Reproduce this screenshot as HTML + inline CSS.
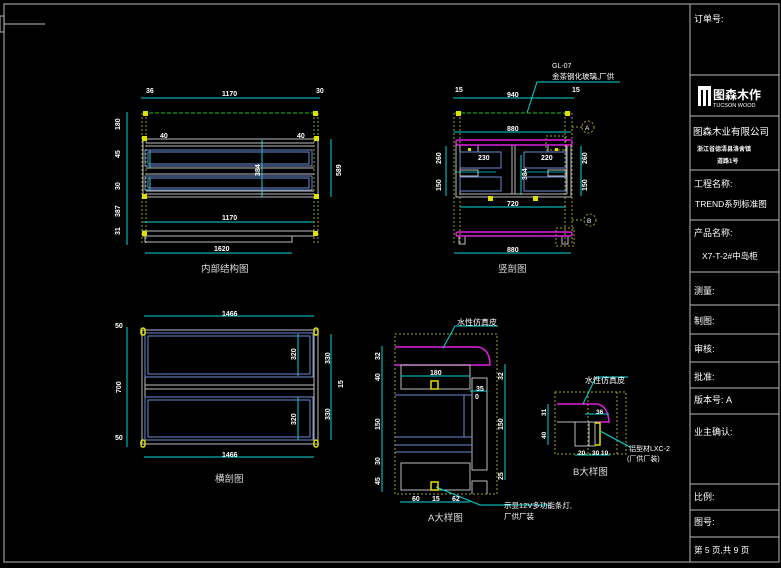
<!DOCTYPE html>
<html><head><meta charset="utf-8"><style>
html,body{margin:0;padding:0;background:#000;}
svg{display:block;}
text{font-family:"Liberation Sans","Noto Sans CJK SC",sans-serif;}
</style></head><body>
<svg width="781" height="568" viewBox="0 0 781 568" xmlns="http://www.w3.org/2000/svg">
<rect width="781" height="568" fill="#000"/>
<!-- frame -->
<g stroke="#9a9a9a" stroke-width="1.2" fill="none">
<rect x="4" y="4" width="775" height="558"/>
<line x1="690" y1="4" x2="690" y2="562"/>
<line x1="4" y1="24" x2="45" y2="24"/>
<rect x="0" y="16" width="4" height="16"/>
</g>
<g stroke="#bbb" stroke-width="1" fill="none">
<line x1="690" y1="75" x2="779" y2="75"/>
<line x1="690" y1="116" x2="779" y2="116"/>
<line x1="690" y1="170" x2="779" y2="170"/>
<line x1="690" y1="220" x2="779" y2="220"/>
<line x1="690" y1="272" x2="779" y2="272"/>
<line x1="690" y1="305" x2="779" y2="305"/>
<line x1="690" y1="334" x2="779" y2="334"/>
<line x1="690" y1="362" x2="779" y2="362"/>
<line x1="690" y1="388" x2="779" y2="388"/>
<line x1="690" y1="414" x2="779" y2="414"/>
<line x1="690" y1="484" x2="779" y2="484"/>
<line x1="690" y1="510" x2="779" y2="510"/>
<line x1="690" y1="537" x2="779" y2="537"/>
</g>
<g fill="#fff" font-size="9">
<text x="694" y="22">订单号:</text>
<rect x="698" y="86" width="13" height="20" fill="#fff"/>
<rect x="701" y="90" width="2" height="16" fill="#000"/><rect x="706" y="90" width="2" height="16" fill="#000"/>
<text x="713" y="99" font-size="12" font-weight="bold">图森木作</text>
<text x="713" y="107" font-size="5.5">TUCSON WOOD</text>
<text x="693" y="135" font-size="9.5">图森木业有限公司</text>
<text x="697" y="151" font-size="6" font-weight="bold">浙江省德清县洛舍镇</text>
<text x="717" y="163" font-size="6" font-weight="bold">道路1号</text>
<text x="694" y="187">工程名称:</text>
<text x="695" y="207" font-size="8.5">TREND系列标准图</text>
<text x="694" y="236">产品名称:</text>
<text x="702" y="259" font-size="8.5">X7-T-2#中岛柜</text>
<text x="694" y="294">测量:</text>
<text x="694" y="324">制图:</text>
<text x="694" y="352">审核:</text>
<text x="694" y="380">批准:</text>
<text x="694" y="403">版本号:  A</text>
<text x="694" y="435">业主确认:</text>
<text x="694" y="500">比例:</text>
<text x="694" y="525">图号:</text>
<text x="694" y="553" font-size="8.5">第 5 页,共 9 页</text>
</g>

<!-- ========== 内部结构图 ========== -->
<g fill="none" stroke-width="1">
<g stroke="#00d8d8">
<line x1="141" y1="98" x2="320" y2="98"/>
<line x1="127" y1="112" x2="127" y2="245"/>
<line x1="331" y1="139" x2="331" y2="197"/>
<line x1="262" y1="140" x2="262" y2="197"/>
<line x1="143" y1="222" x2="314" y2="222"/>
<line x1="145" y1="253" x2="292" y2="253"/>
<line x1="150" y1="150" x2="150" y2="168"/><line x1="150" y1="177" x2="150" y2="190"/>
</g>
<line x1="143" y1="113" x2="318" y2="113" stroke="#20c020" stroke-dasharray="4,2"/>
<g stroke="#a0a020" stroke-dasharray="2,2">
<line x1="142" y1="113" x2="142" y2="245"/><line x1="146" y1="113" x2="146" y2="245"/>
<line x1="314" y1="113" x2="314" y2="245"/><line x1="318" y1="113" x2="318" y2="245"/>
</g>
<g stroke="#bbb">
<rect x="143" y="139" width="175" height="58"/>
<line x1="146" y1="143" x2="314" y2="143"/>
<line x1="146" y1="146" x2="314" y2="146"/>
<line x1="146" y1="168" x2="314" y2="168"/>
<line x1="146" y1="174" x2="314" y2="174"/>
<line x1="146" y1="191" x2="314" y2="191"/>
<line x1="146" y1="194" x2="314" y2="194"/>
<rect x="143" y="231" width="171" height="5"/>
<rect x="145" y="236" width="147" height="6"/>
</g>
<g stroke="#6a8cd0">
<rect x="145" y="150" width="167" height="16"/>
<rect x="148" y="152" width="161" height="12"/>
<rect x="145" y="176" width="167" height="14"/>
<rect x="148" y="178" width="161" height="10"/>
</g>
</g>
<g fill="#e0e000">
<rect x="143" y="111" width="5" height="5"/><rect x="313" y="111" width="5" height="5"/>
<rect x="142" y="136" width="5" height="5"/><rect x="314" y="136" width="5" height="5"/>
<rect x="142" y="194" width="5" height="5"/><rect x="314" y="194" width="5" height="5"/>
<rect x="142" y="231" width="5" height="5"/><rect x="313" y="231" width="5" height="5"/>
</g>
<g fill="#fff" font-size="7" font-weight="bold">
<text x="146" y="93">36</text><text x="316" y="93">30</text>
<text x="222" y="96">1170</text><text x="222" y="220">1170</text><text x="214" y="251">1620</text>
<text x="120" y="130" transform="rotate(-90 120 130)">180</text>
<text x="120" y="158" transform="rotate(-90 120 158)">45</text>
<text x="120" y="190" transform="rotate(-90 120 190)">30</text>
<text x="120" y="217" transform="rotate(-90 120 217)">387</text>
<text x="120" y="235" transform="rotate(-90 120 235)">31</text>
<text x="341" y="176" transform="rotate(-90 341 176)">589</text>
<text x="260" y="176" transform="rotate(-90 260 176)">384</text>
<text x="160" y="138">40</text><text x="297" y="138">40</text>
</g>
<text x="201" y="272" fill="#ddd" font-size="9.5">内部结构图</text>

<!-- ========== 竖剖图 ========== -->
<g fill="none" stroke-width="1">
<g stroke="#00d8d8">
<line x1="453" y1="98" x2="574" y2="98"/>
<line x1="454" y1="132" x2="571" y2="132"/>
<line x1="460" y1="207" x2="566" y2="207"/>
<line x1="454" y1="253" x2="571" y2="253"/>
<line x1="446" y1="146" x2="446" y2="196"/>
<line x1="581" y1="146" x2="581" y2="196"/>
<line x1="521" y1="155" x2="521" y2="195"/>
<polyline points="527,113 537,82 620,82"/>
<line x1="454" y1="172" x2="496" y2="172" stroke-width="0.8"/>
<line x1="524" y1="172" x2="567" y2="172" stroke-width="0.8"/>
</g>
<line x1="455" y1="113" x2="571" y2="113" stroke="#20c020" stroke-dasharray="4,2"/>
<g stroke="#a0a020" stroke-dasharray="2,2">
<line x1="454" y1="113" x2="454" y2="245"/><line x1="460" y1="113" x2="460" y2="245"/>
<line x1="565" y1="113" x2="565" y2="245"/><line x1="572" y1="113" x2="572" y2="245"/>
<rect x="546" y="136" width="20" height="14"/>
<rect x="556" y="228" width="18" height="18"/>
<line x1="572" y1="127" x2="582" y2="127"/><line x1="572" y1="220" x2="583" y2="220"/>
<circle cx="588" cy="127" r="6"/><circle cx="590" cy="220" r="6"/>
</g>
<g stroke="#bbb">
<rect x="456" y="145" width="115" height="52"/>
<line x1="460" y1="145" x2="460" y2="194"/><line x1="567" y1="145" x2="567" y2="194"/>
<line x1="460" y1="194" x2="567" y2="194"/>
<line x1="512" y1="145" x2="512" y2="194"/><line x1="515" y1="145" x2="515" y2="194"/>
<rect x="460" y="145" width="18" height="7"/><rect x="548" y="145" width="18" height="7"/>
<rect x="460" y="170" width="18" height="6"/><rect x="548" y="170" width="18" height="6"/>
<line x1="456" y1="236" x2="571" y2="236"/>
<rect x="459" y="236" width="6" height="8"/><rect x="562" y="236" width="6" height="8"/>
</g>
<g stroke="#6a8cd0">
<rect x="460" y="152" width="41" height="16"/><rect x="524" y="152" width="42" height="16"/>
<rect x="460" y="177" width="41" height="14"/><rect x="524" y="177" width="42" height="14"/>
</g>
<rect x="456" y="140" width="116" height="5" rx="2" stroke="#e020e0" stroke-width="1.5"/>
<rect x="456" y="232" width="116" height="4" rx="2" stroke="#e020e0" stroke-width="1.5"/>
</g>
<g fill="#e0e000">
<rect x="456" y="111" width="5" height="5"/><rect x="565" y="111" width="5" height="5"/>
<rect x="488" y="196" width="5" height="5"/><rect x="533" y="196" width="5" height="5"/>
<rect x="468" y="148" width="3" height="3"/><rect x="555" y="148" width="3" height="3"/>
</g>
<g fill="#fff" font-size="7" font-weight="bold">
<text x="455" y="92">15</text><text x="572" y="92">15</text>
<text x="507" y="97">940</text><text x="507" y="131">880</text>
<text x="507" y="206">720</text><text x="507" y="252">880</text>
<text x="478" y="160">230</text><text x="541" y="160">220</text>
<text x="441" y="164" transform="rotate(-90 441 164)">260</text>
<text x="441" y="191" transform="rotate(-90 441 191)">150</text>
<text x="587" y="164" transform="rotate(-90 587 164)">260</text>
<text x="587" y="191" transform="rotate(-90 587 191)">150</text>
<text x="527" y="180" transform="rotate(-90 527 180)">384</text>
</g>
<g fill="#fff" font-size="7">
<text x="552" y="68">GL-07</text>
<text x="552" y="79" font-size="7.5">金茶钢化玻璃,厂供</text>
<text x="585" y="130" font-size="6.5">A</text><text x="587" y="223" font-size="6.5">B</text>
</g>
<text x="498" y="272" fill="#ddd" font-size="9.5">竖剖图</text>

<!-- ========== 横剖图 ========== -->
<g fill="none" stroke-width="1">
<g stroke="#00d8d8">
<line x1="144" y1="316" x2="314" y2="316"/>
<line x1="144" y1="457" x2="314" y2="457"/>
<line x1="127" y1="327" x2="127" y2="447"/>
<line x1="331" y1="334" x2="331" y2="440"/>
<line x1="298" y1="334" x2="298" y2="376"/>
<line x1="298" y1="397" x2="298" y2="440"/>
</g>
<g stroke="#bbb">
<rect x="142" y="330" width="176" height="114"/>
<line x1="145" y1="385" x2="314" y2="385"/><line x1="145" y1="389" x2="314" y2="389"/>
<line x1="145" y1="333" x2="145" y2="441"/><line x1="314" y1="333" x2="314" y2="441"/>
</g>
<g stroke="#6a8cd0">
<rect x="145" y="333" width="168" height="44"/><rect x="148" y="336" width="162" height="38"/>
<rect x="145" y="397" width="168" height="43"/><rect x="148" y="400" width="162" height="37"/>
</g>
<g stroke="#e0e000" stroke-width="1.5">
<rect x="141" y="328" width="4" height="7" rx="2"/><rect x="314" y="328" width="4" height="7" rx="2"/>
<rect x="141" y="440" width="4" height="7" rx="2"/><rect x="314" y="440" width="4" height="7" rx="2"/>
</g>
</g>
<g fill="#fff" font-size="7" font-weight="bold">
<text x="222" y="316">1466</text><text x="222" y="457">1466</text>
<text x="121" y="393" transform="rotate(-90 121 393)">700</text>
<text x="296" y="360" transform="rotate(-90 296 360)">320</text>
<text x="296" y="425" transform="rotate(-90 296 425)">320</text>
<text x="330" y="364" transform="rotate(-90 330 364)">330</text>
<text x="330" y="420" transform="rotate(-90 330 420)">330</text>
<text x="343" y="388" transform="rotate(-90 343 388)">15</text>
<text x="115" y="328">50</text><text x="115" y="440">50</text>
</g>
<text x="215" y="482" fill="#ddd" font-size="9.5">横剖图</text>

<!-- ========== A大样图 ========== -->
<g fill="none" stroke-width="1">
<rect x="395" y="334" width="102" height="160" stroke="#a0a020" stroke-dasharray="2,2"/>
<path d="M395,347 H478 Q490,349 490,365 H395" stroke="#e020e0" stroke-width="1.5"/>
<g stroke="#bbb">
<rect x="401" y="365" width="69" height="24"/>
<rect x="472" y="378" width="15" height="92"/>
<rect x="401" y="463" width="69" height="27"/>
<polyline points="472,494 472,481 487,481 487,494"/>
</g>
<g stroke="#6a8cd0">
<line x1="395" y1="395" x2="472" y2="395"/>
<line x1="395" y1="437" x2="472" y2="437"/>
<line x1="395" y1="445" x2="472" y2="445"/>
<line x1="395" y1="452" x2="472" y2="452"/>
<line x1="464" y1="395" x2="464" y2="437"/>
</g>
<g stroke="#00d8d8">
<line x1="382" y1="346" x2="382" y2="492"/>
<line x1="505" y1="364" x2="505" y2="480"/>
<line x1="400" y1="502" x2="470" y2="502"/>
<line x1="401" y1="376" x2="470" y2="376"/>
<line x1="470" y1="391" x2="487" y2="391"/>
<polyline points="443,348 455,326 498,326"/>
<polyline points="436,487 480,505 550,505"/>
</g>
<path d="M431,381 H438 V389 H431 Z" stroke="#e0e000" stroke-width="1.5"/>
<path d="M431,482 H438 V490 H431 Z" stroke="#e0e000" stroke-width="1.5"/>
</g>
<g fill="#fff" font-size="7" font-weight="bold">
<text x="430" y="375">180</text><text x="476" y="391">35</text><text x="475" y="399">0</text>
<text x="380" y="360" transform="rotate(-90 380 360)">32</text>
<text x="380" y="381" transform="rotate(-90 380 381)">40</text>
<text x="380" y="430" transform="rotate(-90 380 430)">150</text>
<text x="380" y="465" transform="rotate(-90 380 465)">30</text>
<text x="380" y="485" transform="rotate(-90 380 485)">45</text>
<text x="503" y="380" transform="rotate(-90 503 380)">32</text>
<text x="503" y="430" transform="rotate(-90 503 430)">150</text>
<text x="503" y="480" transform="rotate(-90 503 480)">25</text>
<text x="412" y="501">60</text><text x="432" y="501">15</text><text x="452" y="501">62</text>
</g>
<g fill="#fff" font-size="8">
<text x="457" y="325">水性仿真皮</text>
<text x="504" y="508" font-size="7.5">示显12V多功能条灯,</text>
<text x="504" y="519" font-size="7.5">厂供厂装</text>
</g>
<text x="428" y="521" fill="#ddd" font-size="9.5">A大样图</text>

<!-- ========== B大样图 ========== -->
<g fill="none" stroke-width="1">
<rect x="555" y="392" width="71" height="62" stroke="#a0a020" stroke-dasharray="2,2"/>
<line x1="588" y1="392" x2="588" y2="454" stroke="#a0a020" stroke-dasharray="2,2"/>
<line x1="617" y1="392" x2="617" y2="454" stroke="#a0a020" stroke-dasharray="2,2"/>
<path d="M557,404 H597 Q608,406 609,422 H597" stroke="#e020e0" stroke-width="1.5"/>
<g stroke="#bbb">
<polyline points="557,422 597,422"/>
<rect x="575" y="422" width="20" height="24"/>
<line x1="589" y1="422" x2="589" y2="446"/>
</g>
<polyline points="595,423 600,423 600,445 595,445" stroke="#e0e000" stroke-width="1.5"/>
<g stroke="#00d8d8">
<line x1="548" y1="404" x2="548" y2="445"/>
<line x1="575" y1="455" x2="610" y2="455"/>
<line x1="585" y1="414" x2="609" y2="414"/>
<polyline points="583,404 596,377 628,377"/>
<polyline points="600,431 630,447"/>
</g>
</g>
<g fill="#fff" font-size="6.5" font-weight="bold">
<text x="596" y="414">36</text>
<text x="546" y="416" transform="rotate(-90 546 416)">31</text>
<text x="546" y="439" transform="rotate(-90 546 439)">40</text>
<text x="578" y="455">20</text><text x="592" y="455">30</text><text x="601" y="455">10</text>
</g>
<g fill="#fff" font-size="8">
<text x="585" y="383">水性仿真皮</text>
<text x="629" y="451" font-size="7">铝型材LXC-2</text>
<text x="627" y="461" font-size="7">(厂供厂装)</text>
</g>
<text x="573" y="475" fill="#ddd" font-size="9.5">B大样图</text>
</svg>
</body></html>
